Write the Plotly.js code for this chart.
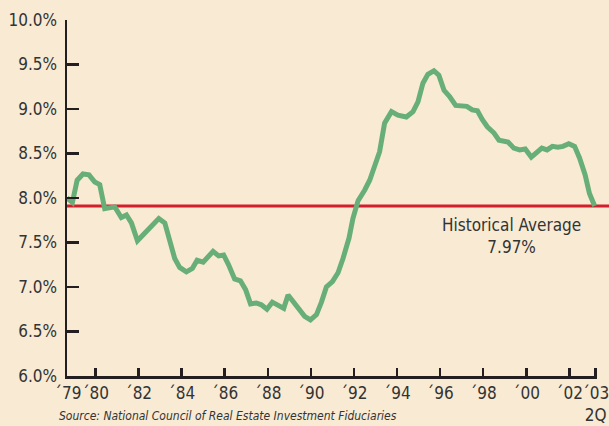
<!DOCTYPE html>
<html>
<head>
<meta charset="utf-8">
<script src="https://cdn.plot.ly/plotly-3.0.1.min.js"></script>
<style>html,body{margin:0;padding:0;background:#f8ead3;}#chart{width:609px;height:426px;}</style>
</head>
<body>
<div id="chart"></div>
<script>
// Quarterly-ish sample positions (decimal years) and cap rate values (%)
const years = [
  1978.68, 1978.93, 1979.15, 1979.42, 1979.70, 1979.97, 1980.20, 1980.43, 1980.90, 1981.20,
  1981.44, 1981.67, 1981.95, 1982.37, 1982.94, 1983.22, 1983.45, 1983.68, 1983.91, 1984.22,
  1984.50, 1984.72, 1985.00, 1985.46, 1985.72, 1985.95, 1986.18, 1986.46, 1986.73, 1986.97,
  1987.20, 1987.47, 1987.70, 1987.96, 1988.21, 1988.47, 1988.74, 1988.94, 1989.25, 1989.48,
  1989.71, 1989.98, 1990.26, 1990.49, 1990.72, 1991.00, 1991.26, 1991.49, 1991.77, 1991.95,
  1992.19, 1992.50, 1992.73, 1992.96, 1993.19, 1993.42, 1993.74, 1994.04, 1994.43, 1994.74,
  1994.97, 1995.20, 1995.43, 1995.71, 1995.94, 1996.18, 1996.44, 1996.72, 1996.98, 1997.24,
  1997.49, 1997.73, 1997.96, 1998.19, 1998.50, 1998.73, 1999.15, 1999.42, 1999.69, 1999.95,
  2000.23, 2000.46, 2000.72, 2000.96, 2001.21, 2001.46, 2001.70, 2001.97, 2002.24, 2002.47,
  2002.73, 2002.93, 2003.17
];
const capRate = [
  8.00, 7.95, 8.20, 8.27, 8.26, 8.18, 8.15, 7.88, 7.90, 7.78,
  7.81, 7.72, 7.52, 7.62, 7.77, 7.72, 7.49, 7.32, 7.22, 7.17,
  7.21, 7.30, 7.28, 7.40, 7.35, 7.36, 7.25, 7.09, 7.07, 6.97,
  6.81, 6.82, 6.80, 6.75, 6.83, 6.80, 6.76, 6.91, 6.82, 6.74,
  6.67, 6.63, 6.69, 6.83, 7.00, 7.06, 7.16, 7.32, 7.55, 7.77,
  7.97, 8.09, 8.20, 8.36, 8.52, 8.84, 8.97, 8.93, 8.91, 8.97,
  9.08, 9.29, 9.39, 9.43, 9.38, 9.21, 9.14, 9.04, 9.04, 9.03,
  8.99, 8.98, 8.88, 8.80, 8.73, 8.65, 8.63, 8.56, 8.54, 8.55,
  8.46, 8.50, 8.56, 8.54, 8.58, 8.57, 8.58, 8.61, 8.58, 8.45,
  8.26, 8.05, 7.91
];
const xTickVals = [1978.72, 1980, 1982, 1984, 1986, 1988, 1990, 1992, 1994, 1996, 1998, 2000, 2002, 2003.22];
const xTickText = ['\u00b479', '\u00b480', '\u00b482', '\u00b484', '\u00b486', '\u00b488', '\u00b490', '\u00b492', '\u00b494', '\u00b496', '\u00b498', '\u00b400', '\u00b402', '\u00b403<br>2Q'];
const yTickVals = [6.0, 6.5, 7.0, 7.5, 8.0, 8.5, 9.0, 9.5, 10.0];
const yTickText = ['6.0%', '6.5%', '7.0%', '7.5%', '8.0%', '8.5%', '9.0%', '9.5%', '10.0%'];
const avgLineValue = 7.91;
const avgLabel = 'Historical Average<br>7.97%';
const sourceText = '<i>Source: National Council of Real Estate Investment Fiduciaries</i>';

const FONT = '"DejaVu Sans Condensed", "Liberation Sans", sans-serif';
const INK = '#231f20';
const TXT = '#333333';
const BG = '#f8ead3';

const traces = [{
  x: years, y: capRate, type: 'scatter', mode: 'lines',
  line: {color: '#67ae78', width: 5}, hoverinfo: 'skip'
}];

const layout = {
  width: 609, height: 426,
  margin: {l: 67, r: 12, t: 20, b: 50},
  paper_bgcolor: BG, plot_bgcolor: BG,
  showlegend: false,
  font: {family: FONT, color: TXT, size: 17},
  xaxis: {
    range: [1978.68, 2003.28], tickmode: 'array', tickvals: xTickVals, ticktext: xTickText,
    tickangle: 0, ticklabeloverflow: 'allow',
    showgrid: false, zeroline: false, showline: true, linecolor: INK, linewidth: 2.5,
    ticks: 'inside', ticklen: 8, tickwidth: 2.5, tickcolor: INK,
    tickfont: {family: FONT, size: 17, color: TXT}
  },
  yaxis: {
    range: [6, 10], tickmode: 'array', tickvals: yTickVals, ticktext: yTickText,
    showgrid: false, zeroline: false, showline: true, linecolor: INK, linewidth: 2.5,
    ticks: 'inside', ticklen: 12, tickwidth: 2.5, tickcolor: INK,
    ticklabelstandoff: 4,
    tickfont: {family: FONT, size: 17, color: TXT}
  },
  shapes: [{
    type: 'line', xref: 'paper', yref: 'y', x0: 0, x1: 1.03, y0: avgLineValue, y1: avgLineValue,
    line: {color: '#d21e2d', width: 3}, layer: 'below'
  }],
  annotations: [
    {x: 1999.3, y: 7.57, xref: 'x', yref: 'y', text: avgLabel, showarrow: false,
     font: {family: FONT, size: 17, color: TXT}, align: 'center'},
    {x: -0.019, y: -0.088, xref: 'paper', yref: 'paper', xanchor: 'left', yanchor: 'top',
     text: sourceText, showarrow: false, font: {family: FONT, size: 12, color: TXT}}
  ]
};

Plotly.newPlot('chart', traces, layout, {displayModeBar: false, staticPlot: true});
</script>
</body>
</html>
